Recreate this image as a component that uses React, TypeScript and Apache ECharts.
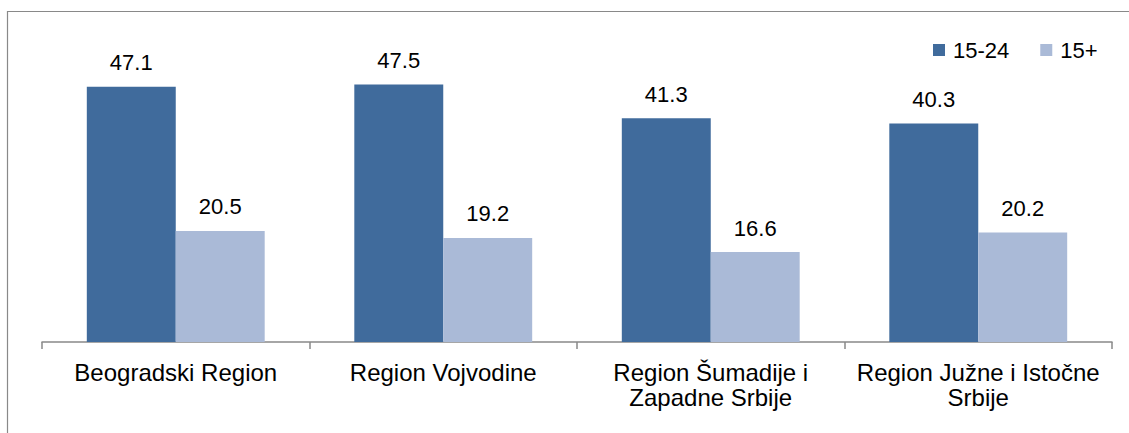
import React, { useEffect, useRef } from "react";
import * as echarts from "echarts";

const categories = [
  "Beogradski Region",
  "Region Vojvodine",
  "Region Šumadije i\nZapadne Srbije",
  "Region Južne i Istočne\nSrbije",
];
const seriesNames = ["15-24", "15+"];
const values1524 = [47.1, 47.5, 41.3, 40.3];
const values15plus = [20.5, 19.2, 16.6, 20.2];

const FONT = "'Liberation Sans', Arial, sans-serif";

export default function App() {
  const ref = useRef<HTMLDivElement>(null);
  useEffect(() => {
    if (!ref.current) return;
    const chart = echarts.init(ref.current, undefined, { renderer: "svg" });
    chart.setOption({
      animation: false,
      backgroundColor: "#ffffff",
      textStyle: { fontFamily: FONT },
      graphic: [
        {
          type: "rect",
          shape: { x: 7.5, y: 11.5, width: 1300, height: 600 },
          style: { fill: "none", stroke: "#898989", lineWidth: 1.2 },
          silent: true,
        },
      ],
      legend: {
        left: 933,
        top: 39,
        padding: 0,
        itemWidth: 12,
        itemHeight: 12,
        itemGap: 31,
        icon: "rect",
        textStyle: { fontSize: 22, color: "#000", fontFamily: FONT, padding: [0, 0, 0, 3] },
        data: seriesNames,
      },
      grid: { left: 42, right: 17, top: 71, bottom: 91 },
      xAxis: {
        type: "category",
        data: categories,
        axisLine: { lineStyle: { color: "#898989", width: 1.5 } },
        axisTick: { show: true, length: 7, lineStyle: { color: "#898989", width: 1.5 } },
        axisLabel: {
          fontSize: 24,
          color: "#000",
          fontFamily: FONT,
          margin: 18,
          lineHeight: 25,
          interval: 0,
        },
      },
      yAxis: {
        type: "value",
        min: 0,
        max: 50,
        show: false,
        splitLine: { show: false },
      },
      series: [
        {
          name: seriesNames[0],
          type: "bar",
          data: values1524,
          barGap: "0%",
          barCategoryGap: "33.5%",
          itemStyle: { color: "#406B9C" },
          label: {
            show: true,
            position: "top",
            distance: 13,
            fontSize: 22,
            color: "#000",
            fontFamily: FONT,
            formatter: (p: any) => p.value.toFixed(1),
          },
        },
        {
          name: seriesNames[1],
          type: "bar",
          data: values15plus,
          barGap: "0%",
          barCategoryGap: "33.5%",
          itemStyle: { color: "#AABAD7" },
          label: {
            show: true,
            position: "top",
            distance: 13,
            fontSize: 22,
            color: "#000",
            fontFamily: FONT,
            formatter: (p: any) => p.value.toFixed(1),
          },
        },
      ],
    });
    return () => chart.dispose();
  }, []);
  return (
    <div
      ref={ref}
      style={{ position: "fixed", left: 0, top: 0, width: 1129, height: 433, background: "#fff" }}
    />
  );
}
